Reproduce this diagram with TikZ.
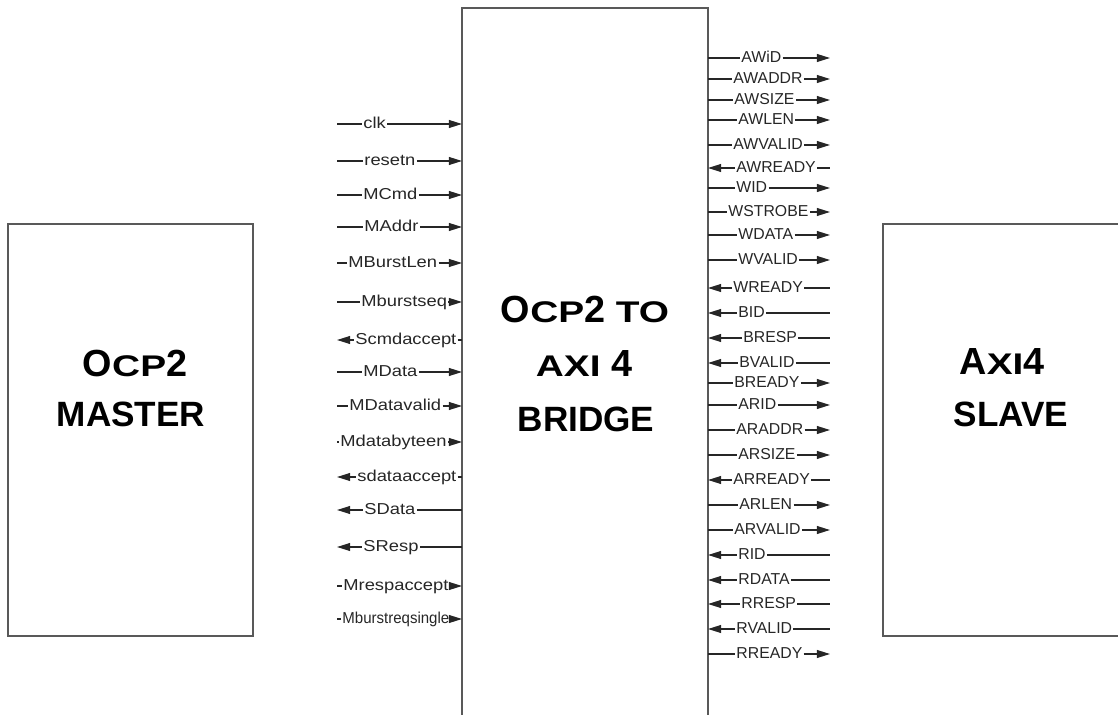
\documentclass[tikz,border=0pt]{standalone}
\usepackage{fontspec}
\setmainfont{Liberation Sans}
\newfontfamily\widesans[FakeStretch=1.16]{Liberation Sans}
\newfontfamily\narrowsans[FakeStretch=0.95]{Liberation Sans}
\newfontfamily\scwide[FakeStretch=1.3]{Liberation Sans}
\usetikzlibrary{arrows.meta}

\newcommand\smsz{\scwide\fontsize{17}{20}\selectfont\bfseries}

\tikzset{
  blk/.style={draw=black!65, line width=1pt},
  wire/.style={black!85, line width=0.75pt, >={Triangle[length=7.5pt,width=4.5pt]}},
  sig/.style={font=\fontsize{9}{10}\selectfont, text=black!85, inner xsep=0.6pt, inner ysep=0pt,
    text height=6.5pt, text depth=1.5pt, anchor=west},
  sigw/.style={sig, font=\widesans\fontsize{9}{10}\selectfont},
  sign/.style={sig, font=\narrowsans\fontsize{9}{10}\selectfont},
  ttlbig/.style={font=\fontsize{21.5}{24}\selectfont\bfseries, anchor=base, inner sep=0pt},
  ttlmid/.style={font=\fontsize{20}{24}\selectfont\bfseries, anchor=base, inner sep=0pt},
}

\begin{document}
\begin{tikzpicture}[x=0.02cm, y=-0.02cm]
  \useasboundingbox (0,0) rectangle (1118,715);

  % blocks
  \node[blk, minimum width=4.9cm, minimum height=8.24cm] (master) at (130.5,430) {};
  \node[minimum width=4.92cm, minimum height=14.14cm, outer sep=0pt] (bridge) at (585,361.5) {};
  \draw[blk] (bridge.south west) -- (bridge.north west) -- (bridge.north east) -- (bridge.south east);
  \node[minimum width=4.7cm, minimum height=8.24cm, outer sep=0pt] (slave) at (1000.5,430) {};
  \draw[blk] (slave.north east) -- (slave.north west) -- (slave.south west) -- (slave.south east);

  % titles
  \node[ttlbig] (mt1) at (135,377) {O{\smsz CP}2};
  \node[ttlmid] (mt2) at (131,427) {MASTER};
  \node[ttlbig] (bt1) at (585,323) {O{\smsz CP}2 {\smsz TO}};
  \node[ttlbig] (bt2) at (584,377) {{\smsz AXI} 4};
  \node[ttlmid] (bt3) at (586,432) {BRIDGE};
  \node[ttlbig] (st1) at (1002,375) {A{\smsz XI}4};
  \node[ttlmid] (st2) at (1011,427) {SLAVE};

  % OCP2 side
  \foreach \y/\name/\tx/\st/\ia/\ib in {124/clk/362/sigw/-/->, 161/resetn/363/sigw/-/->,
      195/MCmd/362/sigw/-/->, 227/MAddr/363/sigw/-/->, 263/MBurstLen/347/sigw/-/->,
      302/Mburstseq/360/sigw/-/->, 340/Scmdaccept/354/sigw/<-/-, 372/MData/362/sigw/-/->,
      406/MDatavalid/348/sigw/-/->, 442/Mdatabyteen/339/sigw/-/->,
      477/sdataaccept/356/sigw/<-/-, 510/SData/363/sigw/<-/-, 547/SResp/362/sigw/<-/-,
      586/Mrespaccept/342/sigw/-/->, 619/Mburstreqsingle/341/sign/-/->} {
    \coordinate (s\name) at (337,\y);
    \node[\st] (\name) at (\tx,\y) {\name};
    \draw[wire, \ia] (s\name) -- (\name.west);
    \draw[wire, \ib] (\name.east) -- (\name -| bridge.west);
  }

  % AXI4 side
  \foreach \y/\name/\tx/\ia/\ib in {58/AWiD/740/-/->, 79/AWADDR/732/-/->, 100/AWSIZE/733/-/->,
      120/AWLEN/737/-/->, 145/AWVALID/732/-/->, 168/AWREADY/735/<-/-,
      188/WID/735/-/->, 212/WSTROBE/727/-/->, 235/WDATA/737/-/->,
      260/WVALID/737/-/->, 288/WREADY/732/<-/-, 313/BID/737/<-/-,
      338/BRESP/742/<-/-, 363/BVALID/738/<-/-, 383/BREADY/733/-/->,
      405/ARID/737/-/->, 430/ARADDR/735/-/->, 455/ARSIZE/737/-/->,
      480/ARREADY/732/<-/-, 505/ARLEN/738/-/->, 530/ARVALID/733/-/->,
      555/RID/737/<-/-, 580/RDATA/737/<-/-, 604/RRESP/740/<-/-,
      629/RVALID/735/<-/-, 654/RREADY/735/-/->} {
    \coordinate (e\name) at (830,\y);
    \node[sig] (\name) at (\tx,\y) {\name};
    \draw[wire, \ia] (\name -| bridge.east) -- (\name.west);
    \draw[wire, \ib] (\name.east) -- (e\name);
  }
\end{tikzpicture}
\end{document}
